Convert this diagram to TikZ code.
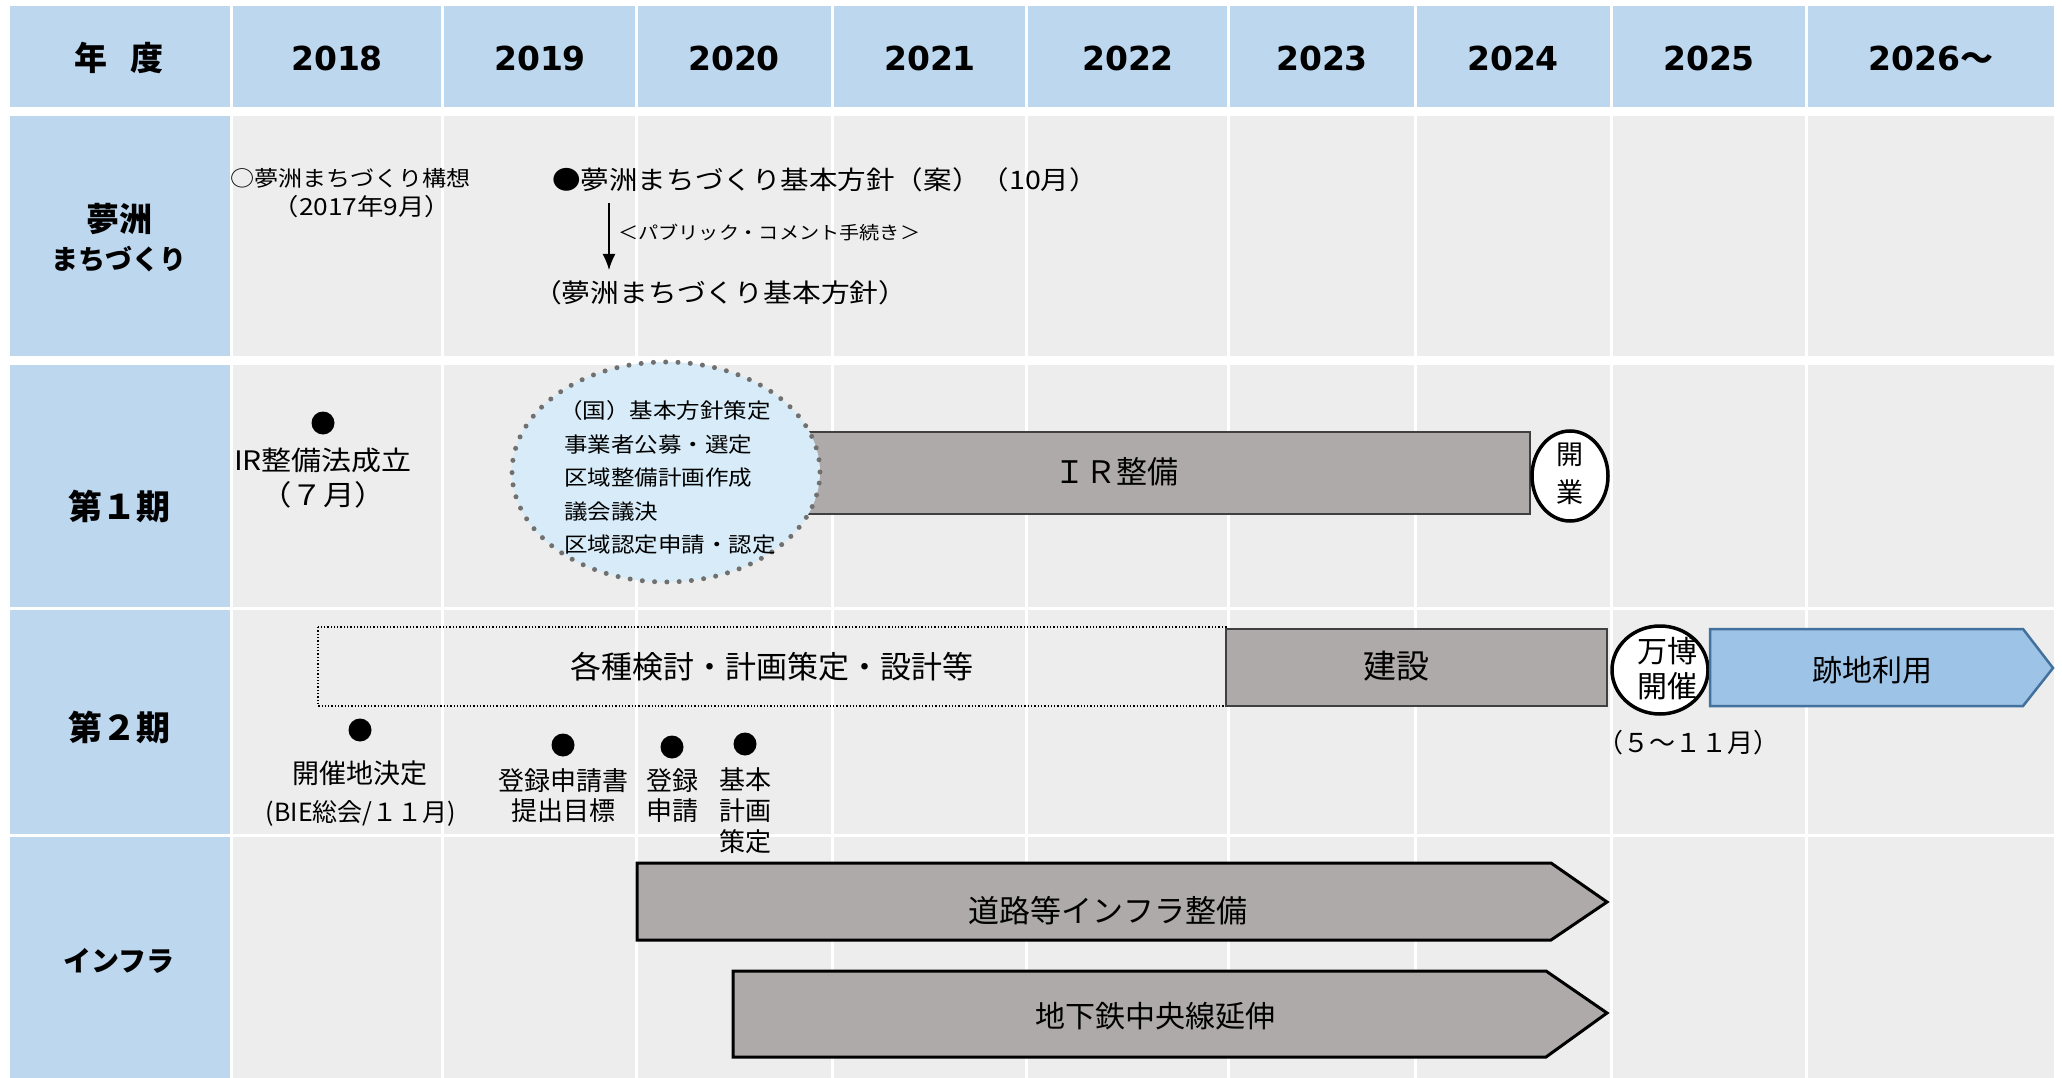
\documentclass[tikz,border=0pt]{standalone}
\usepackage{fontspec}
\setmainfont{Noto Sans CJK JP}
\newfontfamily\jpw{Noto Sans CJK JP}[FakeStretch=1.12]
\newfontfamily\yearfont{DejaVu Sans}
\usetikzlibrary{shapes.geometric,arrows.meta}
\newcommand\fsz[1]{\fontsize{#1pt}{#1pt}\selectfont}
\definecolor{hdr}{HTML}{BDD7EE}
\definecolor{cell}{HTML}{EDEDED}
\definecolor{barg}{HTML}{AEAAAA}
\definecolor{elfill}{HTML}{D7ECF8}
\definecolor{elgray}{HTML}{707070}
\definecolor{blfill}{HTML}{9DC3E6}
\definecolor{bldraw}{HTML}{41719C}
\tikzset{
  tx/.style={inner sep=0pt},
  fs/.style={font=\fsz{#1}},
  fw/.style={font=\jpw\fsz{#1}},
  fb/.style={font=\bfseries\fsz{#1}},
  yr/.style={inner sep=0pt, font=\yearfont\bfseries\fsz{33}},
  dotm/.style={circle, fill=black, minimum size=23pt, inner sep=0pt},
  bar/.style={fill=barg, draw=black!75, line width=1.2pt},
  arrowbar/.style={fill=barg, draw=black, line width=3pt, line join=miter},
  oval/.style={ellipse, draw=black, fill=white, line width=3.5pt, inner sep=0pt},
}
\begin{document}
\begin{tikzpicture}[x=1pt,y=-1pt]
\useasboundingbox (0,0) rectangle (2062,1078);
\fill[white] (0,0) rectangle (2062,1078);
% header and grid backgrounds
\fill[hdr] (10,6) rectangle (2054,107);
\fill[hdr] (10,116) rectangle (231,356);
\fill[hdr] (10,365) rectangle (231,607);
\fill[hdr] (10,610) rectangle (231,834);
\fill[hdr] (10,837) rectangle (231,1078);
\fill[cell] (231,116) rectangle (2054,356);
\fill[cell] (231,365) rectangle (2054,607);
\fill[cell] (231,610) rectangle (2054,834);
\fill[cell] (231,837) rectangle (2054,1078);
\foreach \x in {231.5,442.5,636.5,832.5,1026.5,1228.5,1415.5,1611.5,1806.5}
  \draw[white, line width=3pt] (\x,0) -- (\x,1078);

% header texts
\node[tx, fb=33] (nendo) at (119,58) {年\hspace{24pt}度};
\node[yr] (y18) at (337,58) {2018};
\node[yr] (y19) at (540,58) {2019};
\node[yr] (y20) at (734,58) {2020};
\node[yr] (y21) at (930,58) {2021};
\node[yr] (y22) at (1128,58) {2022};
\node[yr] (y23) at (1322,58) {2023};
\node[yr] (y24) at (1513,58) {2024};
\node[yr] (y25) at (1709,58) {2025};
\node[yr] (y26) at (1931,58) {2026{\rmfamily\bfseries ～}};

% row labels
\node[tx, fb=33] (lab1a) at (119,219) {夢洲};
\node[tx, fb=27] (lab1b) at (119,259) {まちづくり};
\node[tx, fb=34] (lab2) at (119,506) {第１期};
\node[tx, fb=34] (lab3) at (119,727) {第２期};
\node[tx, fb=28] (lab4) at (119,961) {インフラ};

% row 1
\node[tx, fw=21.5, anchor=west] (kousou) at (230,178) {○夢洲まちづくり構想};
\node[tx, fw=23.5] (kousou2) at (362,207) {（2017年9月）};
\node[tx, fw=25.5, anchor=west] (houshinan) at (552,180) {●夢洲まちづくり基本方針（案）（10月）};
\coordinate (arS) at (609,203);
\coordinate (arE) at (609,270);
\draw[line width=1.5pt, -{Latex[length=16pt,width=13pt]}] (arS) -- (arE);
\node[tx, fw=18, anchor=west] (pcom) at (618,233) {＜パブリック・コメント手続き＞};
\node[tx, fw=25.7, anchor=west] (houshin) at (533,293) {（夢洲まちづくり基本方針）};

% row 2
\fill[barg] (700,432) rectangle (1530,514);
\draw[black!75, line width=1.2pt] (700,432) -- (1530,432) -- (1530,514) -- (700,514);
\node[tx, fs=31] (irbar) at (1116,472) {ＩＲ整備};
\node[ellipse, minimum width=308pt, minimum height=220pt, fill=elfill, draw=elgray,
      line width=5pt, dash pattern=on 0pt off 12.3pt, line cap=round, inner sep=0pt] (kuni) at (666,472) {};
\node[tx, fw=21, anchor=west] (k1) at (559,411) {（国）基本方針策定};
\node[tx, fw=21, anchor=west] (k2) at (564,445) {事業者公募・選定};
\node[tx, fw=21, anchor=west] (k3) at (564,478) {区域整備計画作成};
\node[tx, fw=21, anchor=west] (k4) at (564,512) {議会議決};
\node[tx, fw=21, anchor=west] (k5) at (564,545) {区域認定申請・認定};
\node[dotm] (d1) at (323,423) {};
\node[tx, fw=26.8] (irhou) at (323,460) {IR整備法成立};
\node[tx, fw=28] (irhou2) at (323,495) {（７月）};
\node[oval, minimum width=76pt, minimum height=90pt] (kaigyo) at (1570,476) {};
\node[tx, fs=27] (kai1) at (1570,455) {開};
\node[tx, fs=27] (kai2) at (1570,492) {業};

% row 3
\draw[black, line width=1.6pt, dash pattern=on 1.3pt off 2pt] (318,627) rectangle (1226,706);
\node[tx, fs=31] (kakushu) at (772,667) {各種検討・計画策定・設計等};
\draw[bar] (1226,629) rectangle (1607,706);
\node[tx, fs=33] (kensetsu) at (1396,666) {建設};
\node[oval, minimum width=96pt, minimum height=88pt] (banpaku) at (1660,670) {};
\node[tx, fs=30] (ban1) at (1667,651) {万博};
\node[tx, fs=30] (ban2) at (1667,686) {開催};
\draw[fill=blfill, draw=bldraw, line width=2.5pt, line join=miter]
  (1710,629) -- (2023,629) -- (2053,668) -- (2023,706) -- (1710,706) -- cycle;
\node[tx, fs=30] (atochi) at (1872,670) {跡地利用};
\node[tx, fs=26] (gatsu) at (1688,743) {（５～１１月）};

\node[dotm] (d2) at (360,730) {};
\node[tx, fs=27] (m1a) at (360,773) {開催地決定};
\node[tx, fs=25] (m1b) at (361,813) {(BIE総会/１１月)};
\node[dotm] (d3) at (563,745) {};
\node[tx, fs=26] (m2a) at (563,781) {登録申請書};
\node[tx, fs=26] (m2b) at (563,811) {提出目標};
\node[dotm] (d4) at (672,747) {};
\node[tx, fs=26] (m3a) at (672,781) {登録};
\node[tx, fs=26] (m3b) at (672,811) {申請};
\node[dotm] (d5) at (745,744) {};
\node[tx, fs=26] (m4a) at (745,780) {基本};
\node[tx, fs=26] (m4b) at (745,811) {計画};
\node[tx, fs=26] (m4c) at (745,842) {策定};

% row 4
\draw[arrowbar] (637,863) -- (1551,863) -- (1607,902) -- (1551,940) -- (637,940) -- cycle;
\node[tx, fs=31] (douro) at (1108,911) {道路等インフラ整備};
\draw[arrowbar] (733,971) -- (1546,971) -- (1607,1013) -- (1546,1057) -- (733,1057) -- cycle;
\node[tx, fs=30] (chika) at (1155,1016) {地下鉄中央線延伸};
\end{tikzpicture}
\end{document}
